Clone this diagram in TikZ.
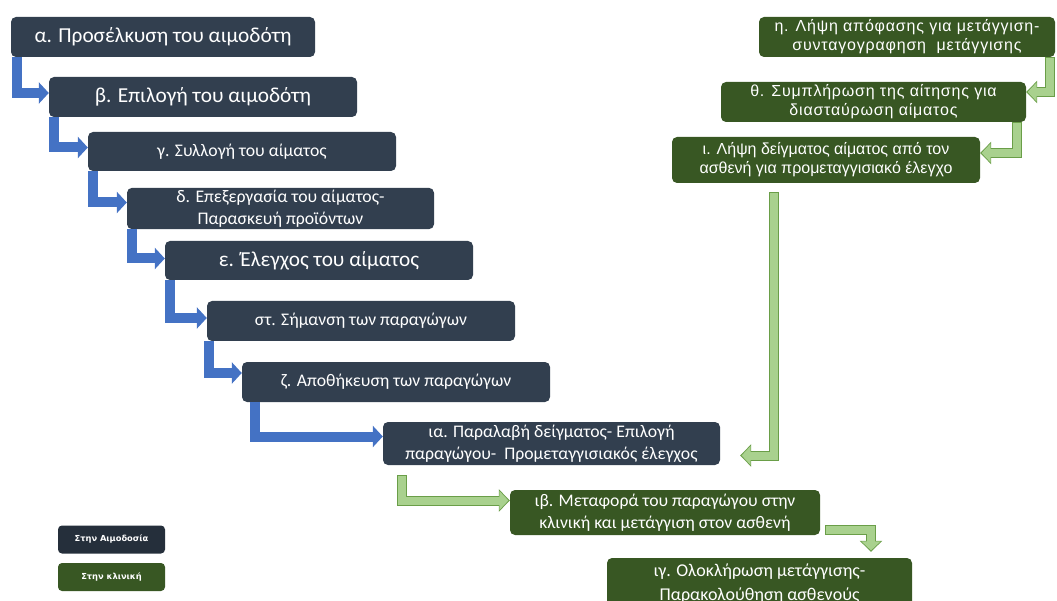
\documentclass[tikz,border=0pt]{standalone}
\usepackage{fontspec}
\setmainfont{Carlito}
\newfontfamily\arialfam{Liberation Sans}
\newfontfamily\verdfam{DejaVu Sans}
\usetikzlibrary{arrows.meta}
\definecolor{azulosc}{HTML}{323F4F}
\definecolor{verdeosc}{HTML}{385723}
\definecolor{azulfl}{HTML}{4472C4}
\definecolor{verdecl}{HTML}{A9D18E}
\definecolor{verdebd}{HTML}{6A9E48}
\newcommand{\grande}{\fontsize{21.3}{26}\selectfont}
\newcommand{\media}{\fontsize{18}{24}\selectfont}
\newcommand{\chica}{\fontsize{17.7}{22}\selectfont}
\newcommand{\arialchica}{\arialfam\fontsize{16}{19}\selectfont}
\newcommand{\arialancha}{\arialchica\addfontfeature{LetterSpace=5}}
\newcommand{\flechaverde}[1]{%
  \draw[line width=10pt, verdebd, -{Triangle[width=22pt, length=11pt]}] #1;
  \draw[line width=8pt, verdecl, shorten <=1pt, shorten >=1.4pt,
    -{Triangle[width=18.5pt, length=9pt]}] #1;}

\begin{document}
\begin{tikzpicture}[x=1pt, y=-1pt, font=\chica,
  caja/.style={rounded corners=5pt, text=white, align=center, minimum width=308pt,
    minimum height=40pt, inner sep=2pt},
  aimo/.style={caja, fill=azulosc},
  klin/.style={caja, fill=verdeosc},
  leyenda/.style={rounded corners=4pt, text=white, minimum width=107pt, minimum height=28pt,
    inner sep=1pt, font=\verdfam\bfseries\fontsize{8.3}{10}\selectfont},
  azul/.style={line width=10pt, azulfl, -{Triangle[width=21pt, length=10pt]}}]
  \clip (0,0) rectangle (1057,601);
  \node[aimo, minimum width=304pt, font=\grande] (alfa) at (163,37) {α. Προσέλκυση του αιμοδότη};
  \node[aimo, font=\grande] (beta) at (203,97) {β. Επιλογή του αιμοδότη};
  \node[aimo, minimum height=39pt] (gama) at (242,151.5) {γ. Συλλογή του αίματος};
  \node[aimo, minimum width=307pt, minimum height=41pt] (delta) at (280.5,208.5)
    {δ. Επεξεργασία του αίματος-\\Παρασκευή προϊόντων};
  \node[aimo, minimum height=39pt, font=\grande] (epsilon) at (319,260.5) {ε. Έλεγχος του αίματος};
  \node[aimo] (stigma) at (361,321) {στ. Σήμανση των παραγώγων};
  \node[aimo] (zeta) at (396,382) {ζ. Αποθήκευση των παραγώγων};
  \node[aimo, minimum width=337pt, minimum height=43pt] (iotaalfa) at (551.5,443.5)
    {ια. Παραλαβή δείγματος- Επιλογή\\παραγώγου-\ \ Προμεταγγισιακός έλεγχος};
  \node[klin, minimum width=296pt, font=\arialancha] (eta) at (907,37)
    {η. Λήψη απόφασης για μετάγγιση-\\συνταγογραφηση\ \ μετάγγισης};
  \node[klin, minimum width=305pt, font=\arialancha] (theta) at (873.5,102)
    {θ. Συμπλήρωση της αίτησης για\\διασταύρωση αίματος};
  \node[klin, minimum height=46pt, font=\arialchica] (iota) at (826,160)
    {ι. Λήψη δείγματος αίματος από τον\\ασθενή για προμεταγγισιακό έλεγχο};
  \node[klin, minimum width=310pt, minimum height=45pt] (iotabeta) at (665,512.5)
    {ιβ. Μεταφορά του παραγώγου στην\\κλινική και μετάγγιση στον ασθενή};
  \node[klin, minimum width=305pt, minimum height=52pt, font=\media] (iotagama) at (759.5,584)
    {ιγ. Ολοκλήρωση μετάγγισης-\\Παρακολούθηση ασθενούς};
  \node[leyenda, fill=azulosc!75!black] (leyaimo) at (111.5,539.5) {Στην Αιμοδοσία};
  \node[leyenda, fill=verdeosc] (leyklin) at (111.5,577) {Στην κλινική};
  \foreach \desde/\hasta/\dx/\dy in {alfa/beta/6/4, beta/gama/5/4, gama/delta/5/6,
      delta/epsilon/5/2, epsilon/stigma/5/3, stigma/zeta/2/9, zeta/iotaalfa/13/7}
    \draw[azul] ([xshift=\dx pt]\desde.south west) |- ([yshift=\dy pt]\hasta.west);
  \flechaverde{([xshift=-5pt]eta.south east) |- ([yshift=10pt]theta.east)}
  \flechaverde{([xshift=-9pt]theta.south east) |- ([yshift=7pt]iota.east)}
  \flechaverde{([xshift=-52pt, yshift=-9pt]iota.south) |- ([xshift=20pt, yshift=-12pt]iotaalfa.east)}
  \flechaverde{([xshift=19pt, yshift=-10pt]iotaalfa.south west) |- ([yshift=12pt]iotabeta.west)}
  \flechaverde{([xshift=5pt, yshift=5pt]iotabeta.south east) -| ([xshift=111.5pt, yshift=6pt]iotagama.north)}
\end{tikzpicture}
\end{document}
